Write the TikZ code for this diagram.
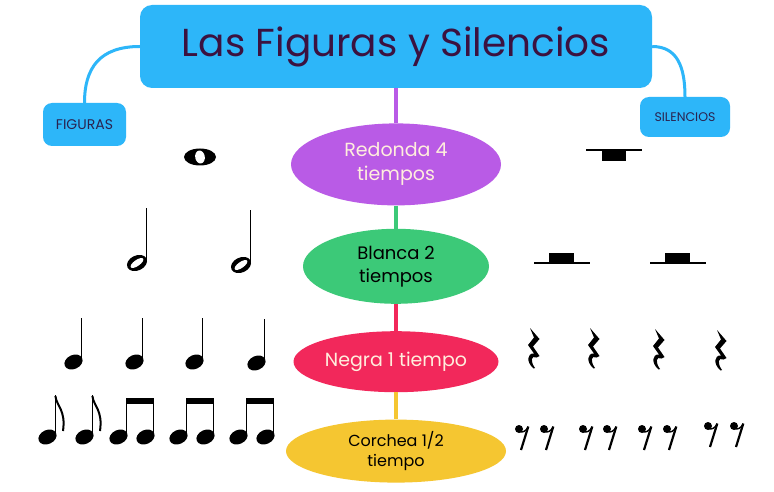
\documentclass[tikz,border=0pt]{standalone}
\usepackage{fontspec}
\setmainfont{Poppins}
\usepackage{tikz}
\usetikzlibrary{arrows,fit,positioning,shapes.geometric}

\definecolor{azulmapa}{HTML}{2DB6F9}
\definecolor{tintatitulo}{HTML}{3B1240}
\definecolor{tintaetiqueta}{HTML}{2A2350}
\definecolor{morado}{HTML}{B95BE6}
\definecolor{verde}{HTML}{3CC978}
\definecolor{rojo}{HTML}{F2285B}
\definecolor{amarillo}{HTML}{F5C631}
\definecolor{crema}{HTML}{FFEEDD}

\tikzset{
    %Define standard arrow tip
    >=stealth',
    %Define style for the title box
    titulo/.style={
           rectangle,
           rounded corners=12pt,
           fill=azulmapa,
           minimum width=512pt,
           minimum height=83pt,
           font=\fontsize{39}{44}\selectfont,
           text=tintatitulo,
           text centered},
    %Define style for the side labels
    etiqueta/.style={
           rectangle,
           rounded corners=9pt,
           fill=azulmapa,
           inner sep=0pt,
           text=tintaetiqueta,
           text centered},
    %Define style for the duration ellipses
    tiempo/.style={
           ellipse,
           inner sep=0pt,
           align=center,
           font=\fontsize{19}{24}\selectfont,
           text centered},
    % Define line styles
    rama/.style={
           line width=4pt},
    curva/.style={
           line width=3pt,
           draw=azulmapa},
    plica/.style={
           line width=1.8pt}
}

% note heads, stems and rests
\newcommand{\notaredonda}[1]{%
  \begin{scope}[shift={(#1)}]
    \fill (0,0) ellipse (16 and 8.5);
    \fill[white, rotate=100] (0,0) ellipse (6.5 and 4.8);
  \end{scope}}
\newcommand{\notablanca}[1]{%
  \begin{scope}[shift={(#1)}]
    \fill[rotate around={25:(-10,0)}] (-10,0) ellipse (10.5 and 7.5);
    \fill[white, rotate around={35:(-10,0)}] (-10,0) ellipse (7.5 and 3);
    \draw[plica] (-0.6,-1) -- (-0.6,-55);
  \end{scope}}
\newcommand{\notanegra}[1]{%
  \begin{scope}[shift={(#1)}]
    \fill[rotate around={25:(-8.5,0)}] (-8.5,0) ellipse (9.5 and 7);
    \draw[plica] (-0.6,-2) -- (-0.6,-44);
  \end{scope}}
\newcommand{\corchea}[1]{%
  \begin{scope}[shift={(#1)}]
    \fill[rotate around={25:(-8.5,0)}] (-8.5,0) ellipse (9.5 and 7);
    \draw[plica] (-0.6,-2) -- (-0.6,-42);
    \draw[line width=2pt] (-0.6,-41) .. controls (0.5,-31) and (10,-27) .. (7,-6);
  \end{scope}}
\newcommand{\corcheadoble}[1]{%
  \begin{scope}[shift={(#1)}]
    \fill[rotate around={25:(-8.5,0)}] (-8.5,0) ellipse (9.5 and 7);
    \fill[rotate around={25:(18.5,0)}] (18.5,0) ellipse (9.5 and 7);
    \draw[plica] (-0.6,-2) -- (-0.6,-39);
    \draw[plica] (26.4,-2) -- (26.4,-39);
    \fill (-1.5,-39) rectangle (27.3,-33);
  \end{scope}}
\newcommand{\silredonda}[1]{%
  \begin{scope}[shift={(#1)}]
    \draw[line width=2pt] (0,0) -- (56,0);
    \fill (16,0) rectangle (40,11);
  \end{scope}}
\newcommand{\silblanca}[1]{%
  \begin{scope}[shift={(#1)}]
    \draw[line width=2pt] (0,0) -- (56,0);
    \fill (15,0) rectangle (40,-10);
  \end{scope}}
\newcommand{\silnegra}[1]{%
  \begin{scope}[shift={(#1)}]
    \fill (4,0) -- (13.5,11) -- (7,18.5) -- (13.5,28) -- (10.5,29.5)
          .. controls (5,27) and (4,33) .. (9,40) -- (7.5,40.5)
          .. controls (0,34) and (1,25) .. (8,25.5) -- (2,17) -- (8,9.5) -- cycle;
  \end{scope}}
\newcommand{\silcorchea}[1]{%
  \begin{scope}[shift={(#1)}]
    \fill (4,4) circle (4);
    \draw[line width=1.4pt] (4,6.5) .. controls (8,8) and (11,6) .. (13,2);
    \draw[line width=2.2pt] (13.3,1.5) -- (6,25);
  \end{scope}}

\begin{document}
\begin{tikzpicture}[x=1pt,y=-1pt,node distance=22pt]
\path[fill=white] (0,0) rectangle (774,492);

 %nodes
\node[titulo] (titulo) at (396,46.5) {Las Figuras y Silencios};
\node[etiqueta, minimum width=83pt, minimum height=43pt,
      font=\fontsize{14}{16}\selectfont] (figuras) at (84.5,124.5) {FIGURAS};
\node[etiqueta, minimum width=90pt, minimum height=40pt,
      font=\fontsize{12.5}{14}\selectfont] (silencios) at (685,117) {SILENCIOS};

\node[tiempo, fill=morado, text=crema, minimum width=210pt, minimum height=82pt,
      below=35pt of titulo] (redonda) {Redonda 4\\tiempos};
\node[tiempo, fill=verde, minimum width=186pt, minimum height=75pt,
      font=\fontsize{18}{23}\selectfont,
      below=23pt of redonda] (blanca) {Blanca 2\\tiempos};
\node[tiempo, fill=rojo, text=crema, minimum width=205pt, minimum height=61pt,
      below=27pt of blanca] (negra) {Negra 1 tiempo};
\node[tiempo, fill=amarillo, minimum width=220pt, minimum height=63pt,
      font=\fontsize{16}{20}\selectfont,
      below=27pt of negra] (corcheanodo) {Corchea 1/2\\tiempo};

 \path[rama]
    (titulo) edge[draw=morado] (redonda)
    (redonda) edge[draw=verde] (blanca)
    (blanca) edge[draw=rojo] (negra)
    (negra) edge[draw=amarillo] (corcheanodo);

\draw[curva] (titulo.west) .. controls +(-40,0) and +(0,-35) .. (figuras.north);
\draw[curva] (titulo.east) .. controls +(25,0) and +(0,-30) .. (silencios.north);

 %figuras
\notaredonda{200,157}
\notablanca{147,263}
\notablanca{251,265}
\notanegra{82,362}
\notanegra{143,362}
\notanegra{203,362}
\notanegra{265,363}
\corchea{56,437}
\corchea{93,437}
\corcheadoble{127,437}
\corcheadoble{187,437}
\corcheadoble{247,437}

 %silencios
\silredonda{586,150}
\silblanca{534,263}
\silblanca{650,263}
\silnegra{526,328}
\silnegra{586,328}
\silnegra{651,329}
\silnegra{713,330}
\silcorchea{515,425}
\silcorchea{540,425}
\silcorchea{579,425}
\silcorchea{603,425}
\silcorchea{638,425}
\silcorchea{663,425}
\silcorchea{704,422}
\silcorchea{730,422}
\end{tikzpicture}
\end{document}
